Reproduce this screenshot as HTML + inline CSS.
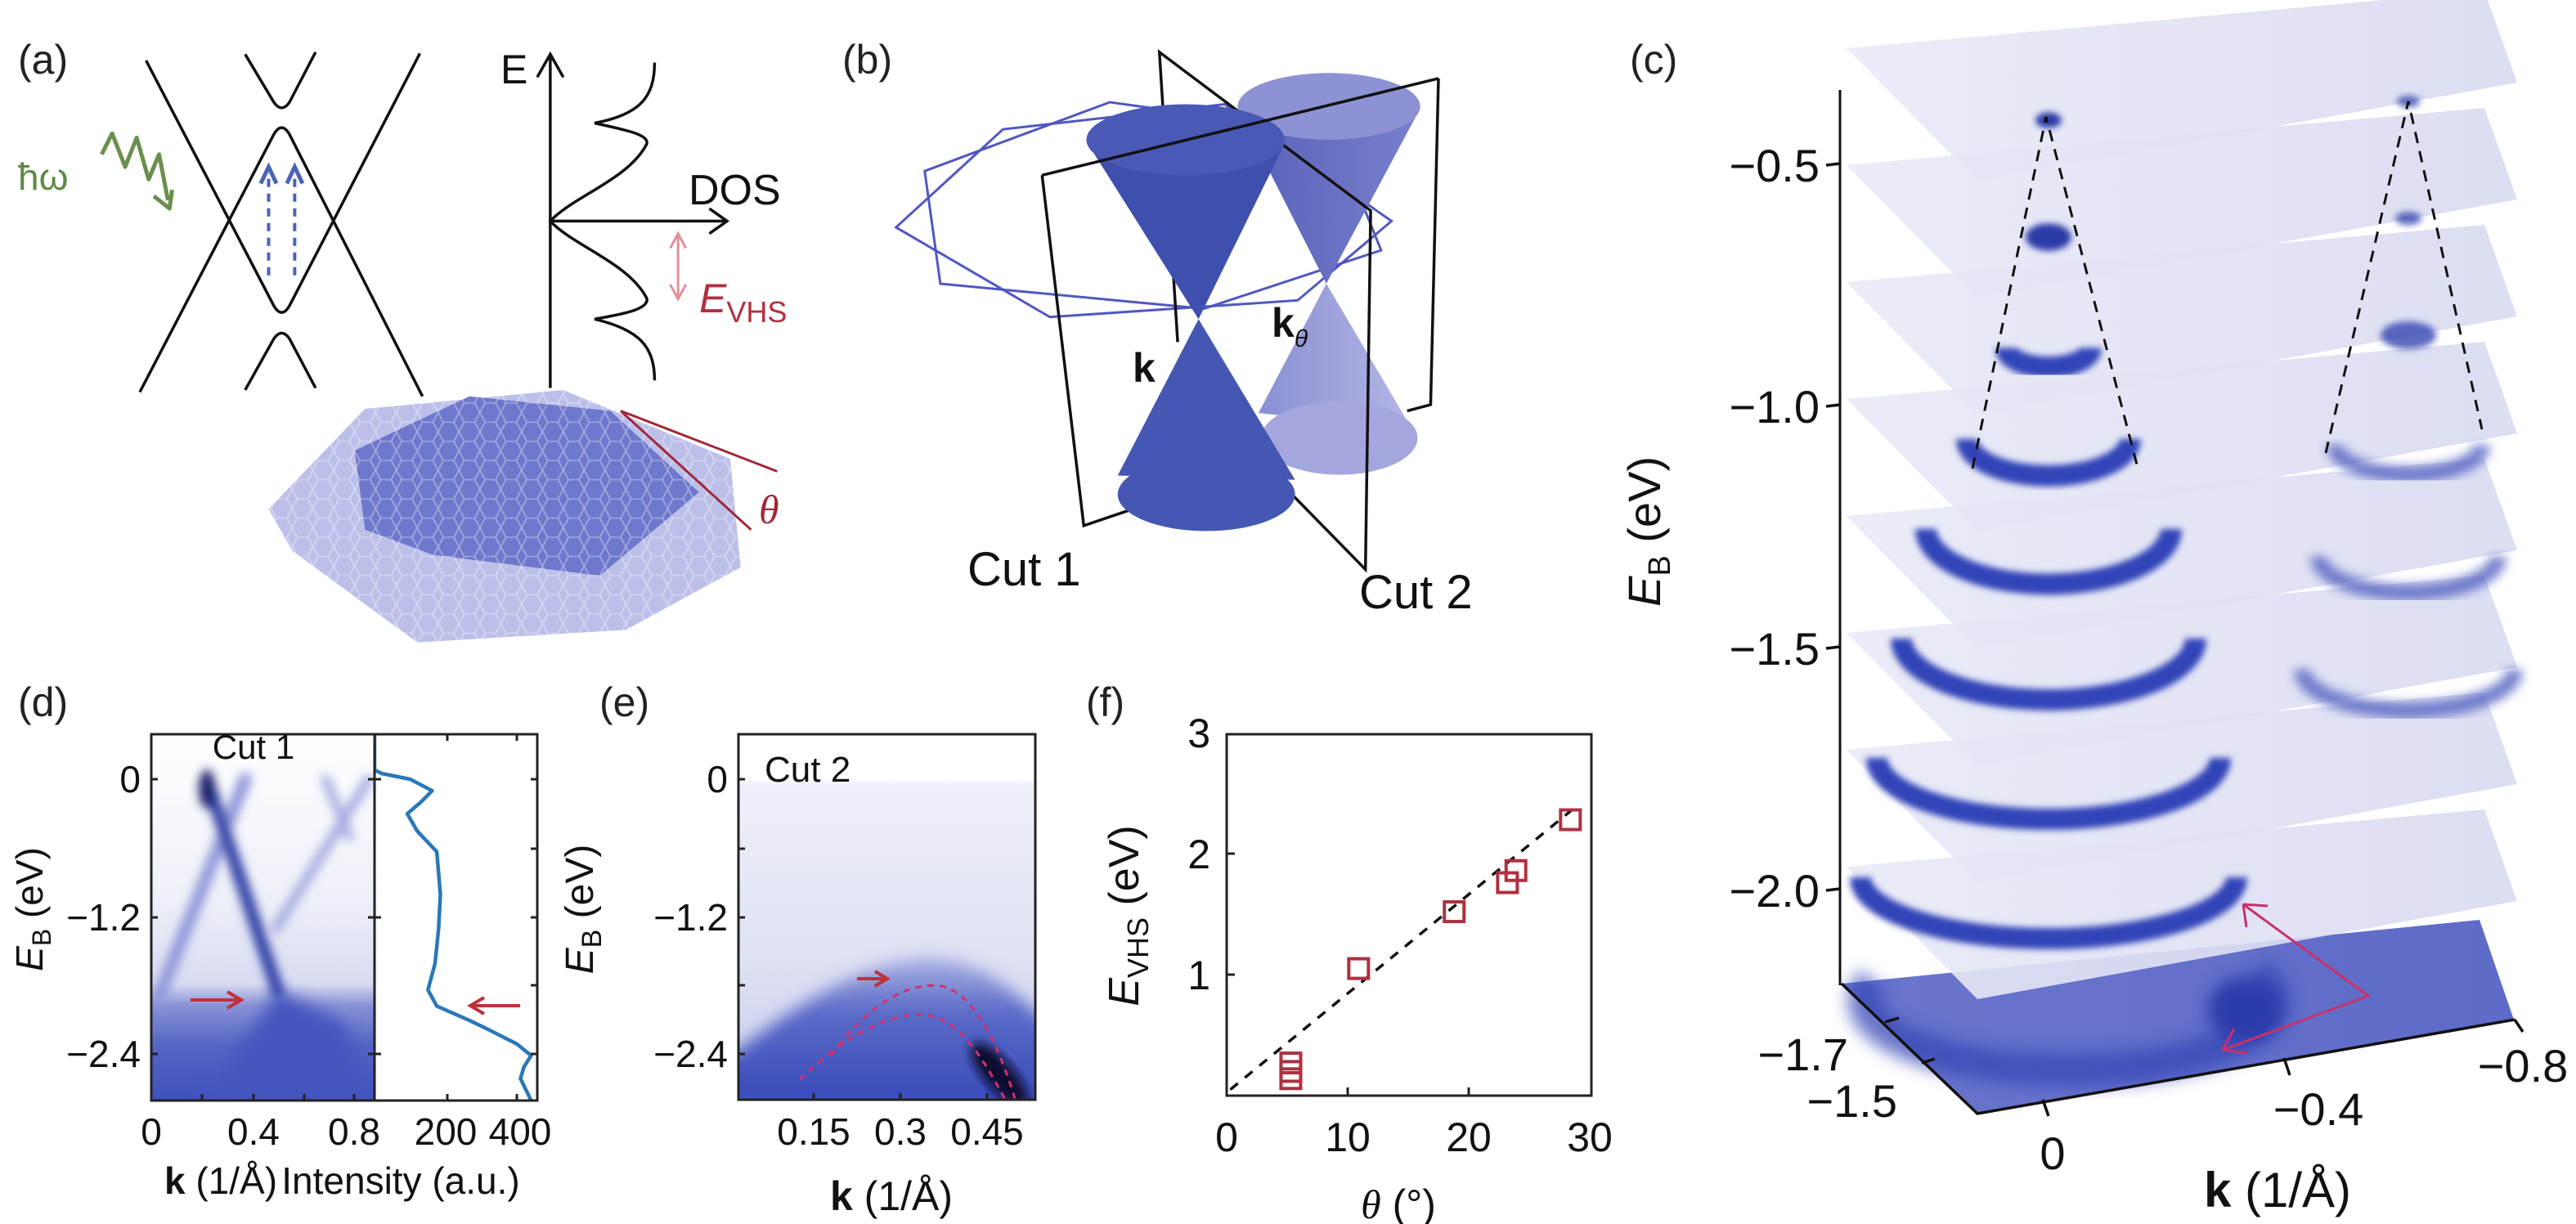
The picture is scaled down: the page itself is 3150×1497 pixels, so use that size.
<!DOCTYPE html>
<html><head><meta charset="utf-8"><style>
html,body{margin:0;padding:0;background:#fff;}
svg{display:block;}
.t{font-family:"Liberation Sans Narrow","Liberation Sans",sans-serif;}
.s{font-family:"Liberation Sans",sans-serif;}
</style></head><body>
<svg id="fig" width="3150" height="1497" viewBox="0 0 3150 1497" xmlns="http://www.w3.org/2000/svg">
<defs>
<filter id="blur6" x="-20%" y="-20%" width="140%" height="140%"><feGaussianBlur stdDeviation="6"/></filter>
<filter id="blur10" x="-30%" y="-30%" width="160%" height="160%"><feGaussianBlur stdDeviation="10"/></filter>
<filter id="blur3" x="-20%" y="-40%" width="140%" height="180%"><feGaussianBlur stdDeviation="4"/></filter>
<linearGradient id="dbg" x1="0" y1="0" x2="0" y2="1">
<stop offset="0" stop-color="#ffffff"/><stop offset="0.45" stop-color="#eef0f9"/><stop offset="0.68" stop-color="#d9dcf1"/><stop offset="0.74" stop-color="#8892d6"/><stop offset="0.85" stop-color="#5565c4"/><stop offset="1" stop-color="#3f51bd"/></linearGradient>
<linearGradient id="ebg" x1="0" y1="0" x2="0" y2="1">
<stop offset="0" stop-color="#ffffff"/><stop offset="0.12" stop-color="#ffffff"/><stop offset="0.14" stop-color="#eef0f9"/><stop offset="0.6" stop-color="#dfe2f3"/><stop offset="1" stop-color="#c9cdee"/></linearGradient>
<linearGradient id="edome" x1="0" y1="0" x2="0" y2="1">
<stop offset="0" stop-color="#aab1e3"/><stop offset="0.35" stop-color="#5b6bc8"/><stop offset="1" stop-color="#3447b8"/></linearGradient>
<linearGradient id="slice" x1="0" y1="0" x2="1" y2="0">
<stop offset="0" stop-color="#e9eaf7"/><stop offset="1" stop-color="#d8daf0"/></linearGradient>
<linearGradient id="slice0" x1="0" y1="0" x2="1" y2="0">
<stop offset="0" stop-color="#6a75cd"/><stop offset="1" stop-color="#5e6bc8"/></linearGradient>
<linearGradient id="cone2" x1="0" y1="0" x2="1" y2="0">
<stop offset="0" stop-color="#5560b8"/><stop offset="1" stop-color="#7a80cc"/></linearGradient>
<linearGradient id="cone3" x1="0" y1="0" x2="1" y2="0">
<stop offset="0" stop-color="#8a90d4"/><stop offset="1" stop-color="#b3b6e4"/></linearGradient>
<pattern id="hexpat" width="40" height="46" patternUnits="userSpaceOnUse">
<path d="M10,0 L30,0 L40,23 L30,46 L10,46 L0,23 Z" fill="none" stroke="#ffffff" stroke-opacity="0.35" stroke-width="3"/></pattern>
<clipPath id="clipD"><rect x="185" y="898" width="273" height="448"/></clipPath>
<clipPath id="clipDI"><rect x="458" y="898" width="199" height="448"/></clipPath>
<clipPath id="clipE"><rect x="903" y="898" width="363" height="447"/></clipPath>
</defs>

<g class="s" font-size="50" fill="#222">
<text x="22" y="90">(a)</text>
<text x="1030" y="90">(b)</text>
<text x="1993" y="90">(c)</text>
<text x="22" y="876">(d)</text>
<text x="733" y="876">(e)</text>
<text x="1328" y="876">(f)</text>
</g>

<!-- ========== PANEL A ========== -->
<g>
<g transform="scale(0.6378,0.5102)">
<g fill="none" stroke="#111" stroke-width="3.5">
<path vector-effect="non-scaling-stroke" d="M470,130 L525,245 Q540,272 555,245 L605,125"/>
<path vector-effect="non-scaling-stroke" d="M268,940 L525,322 Q540,290 555,322 L810,950"/>
<path vector-effect="non-scaling-stroke" d="M280,145 L525,733 Q540,765 555,733 L805,128"/>
<path vector-effect="non-scaling-stroke" d="M470,935 L525,812 Q540,785 555,812 L605,930"/>
</g>
<g stroke="#4a63b8" stroke-width="4" fill="none">
<path vector-effect="non-scaling-stroke" d="M515,660 L515,420" stroke-dasharray="10,8"/>
<path vector-effect="non-scaling-stroke" d="M565,660 L565,420" stroke-dasharray="10,8"/>
<path vector-effect="non-scaling-stroke" d="M500,440 L515,400 L530,440" stroke-width="5"/>
<path vector-effect="non-scaling-stroke" d="M550,440 L565,400 L580,440" stroke-width="5"/>
</g>
<path vector-effect="non-scaling-stroke" d="M195,370 L215,320 L240,400 L262,330 L285,430 L305,370 L322,480 M295,470 L325,500 L330,455" fill="none" stroke="#6b8f4e" stroke-width="5" stroke-linejoin="round"/>
<g fill="none" stroke="#111" stroke-width="3.5">
<path vector-effect="non-scaling-stroke" d="M1055,930 L1055,132"/>
<path vector-effect="non-scaling-stroke" d="M1030,185 L1055,130 L1080,185"/>
<path vector-effect="non-scaling-stroke" d="M1055,530 L1392,530"/>
<path vector-effect="non-scaling-stroke" d="M1360,500 L1394,530 L1360,560"/>
<path vector-effect="non-scaling-stroke" d="M1255,150 C1255,235 1225,275 1140,295 C1200,312 1245,322 1240,345 C1205,430 1100,470 1055,530 C1100,590 1205,630 1240,715 C1245,740 1200,752 1140,765 C1225,790 1255,830 1255,912"/>
</g>
<path vector-effect="non-scaling-stroke" d="M1300,565 L1300,712 M1285,595 L1300,560 L1315,595 M1285,682 L1300,717 L1315,682" fill="none" stroke="#e0909a" stroke-width="3"/>
<g>
<polygon points="515,1220 700,980 1080,935 1400,1100 1420,1360 1200,1510 800,1540 560,1320" fill="#bcc0e9"/>
<polygon points="515,1220 700,980 1080,935 1400,1100 1420,1360 1200,1510 800,1540 560,1320" fill="url(#hexpat)"/>
<polygon points="680,1080 900,950 1170,985 1340,1180 1150,1380 830,1330 700,1270" fill="#6e78cc"/>
<polygon points="680,1080 900,950 1170,985 1340,1180 1150,1380 830,1330 700,1270" fill="url(#hexpat)"/>
</g>
<path vector-effect="non-scaling-stroke" d="M1190,985 L1490,1130 M1190,985 L1440,1270" stroke="#a02838" stroke-width="3" fill="none"/>
</g>
<text class="s" x="22" y="232" font-size="46" fill="#5f8a45">ħω</text>
<text class="s" x="612" y="102" font-size="50" fill="#111">E</text>
<text class="s" x="842" y="250" font-size="52" fill="#111">DOS</text>
<text class="s" x="855" y="382" font-size="50" fill="#b03040" font-style="italic">E<tspan font-size="36" font-style="normal" dy="12">VHS</tspan></text>
<text x="928" y="640" font-family="Liberation Serif,serif" font-style="italic" font-size="50" fill="#a02838">θ</text>
</g>

<!-- ========== PANEL B ========== -->
<g>
<g transform="translate(1000,0) scale(0.6378,0.5102)">
<g fill="none" stroke="#5058c0" stroke-width="3">
<polygon vector-effect="non-scaling-stroke" points="150,545 355,310 780,250 1100,530 920,720 445,760"/>
<polygon vector-effect="non-scaling-stroke" points="205,410 560,245 990,320 1080,600 740,740 235,680"/>
</g>
<g>
<polygon points="845,990 975,680 1140,1030" fill="url(#cone3)"/>
<ellipse cx="1000" cy="1050" rx="150" ry="88" fill="#a4a7dd"/>
<polygon points="805,260 1155,260 975,680" fill="url(#cone2)"/>
<ellipse cx="980" cy="255" rx="175" ry="80" fill="#8d92d4"/>
</g>
<g fill="none" stroke="#111" stroke-width="3.5">
<polyline vector-effect="non-scaling-stroke" points="690,820 655,125 1060,505 1050,1365 905,1180"/>
<polyline vector-effect="non-scaling-stroke" points="600,1222 510,1260 430,420"/>
<polyline vector-effect="non-scaling-stroke" points="1190,188 1175,970 1130,985"/>
</g>
<g>
<polygon points="575,1140 730,765 915,1150" fill="#4656b3"/>
<ellipse cx="745" cy="1185" rx="170" ry="88" fill="#4656b3"/>
<polygon points="518,345 895,345 730,765" fill="#3f4fae"/>
<ellipse cx="705" cy="335" rx="190" ry="85" fill="#4a59b6"/>
</g>
<path vector-effect="non-scaling-stroke" d="M430,420 L1190,188" stroke="#111" stroke-width="3.5" fill="none"/>
</g>
<text class="s" x="1385" y="467" font-size="50" font-weight="bold" fill="#111">k</text>
<text class="s" x="1555" y="412" font-size="50" font-weight="bold" fill="#111">k<tspan font-size="30" font-weight="normal" font-style="italic" dy="12">θ</tspan></text>
<text class="t" x="1183" y="716" font-size="58" fill="#111">Cut 1</text>
<text class="t" x="1662" y="744" font-size="58" fill="#111">Cut 2</text>
</g>

<!-- ========== PANEL C ========== -->
<g id="panelC">
<line x1="2250" y1="110" x2="2250" y2="1205" stroke="#111" stroke-width="3"/>
<g id="cSlices"></g>
<g stroke="#111" stroke-width="3" stroke-dasharray="14,10" fill="none">
<path d="M2412,573 L2502,143 L2613,568"/>
<path d="M2844,554 L2945,124 L3035,525"/>
</g>
<path d="M2743,1106 L2896,1218 L2718,1284 M2743,1106 l30,2 M2743,1106 l4,28 M2718,1284 l14,-26 M2718,1284 l30,4" stroke="#c8306a" stroke-width="3" fill="none"/>
<g stroke="#111" stroke-width="3.5" fill="none">
<path d="M2252,1203 L2418,1362 L3075,1247"/>
<path d="M2498,1345 L2505,1365 M2793,1294 L2800,1315 M3075,1247 L3085,1262 M2305,1250 L2322,1245 M2350,1300 L2366,1295"/>
<path d="M2233,202 L2250,200 M2233,497 L2250,495 M2233,793 L2250,791 M2233,1089 L2250,1087"/>
</g>
<g class="t" font-size="56" fill="#111" text-anchor="end">
<text x="2225" y="222">−0.5</text><text x="2225" y="517">−1.0</text><text x="2225" y="813">−1.5</text><text x="2225" y="1109">−2.0</text>
<text x="2260" y="1309">−1.7</text><text x="2320" y="1366">−1.5</text>
</g>
<g class="t" font-size="56" fill="#111" text-anchor="middle">
<text x="2510" y="1430">0</text><text x="2835" y="1376">−0.4</text><text x="3085" y="1323">−0.8</text>
</g>
<text class="t" x="2785" y="1476" font-size="60" text-anchor="middle" fill="#111"><tspan font-weight="bold">k</tspan> (1/Å)</text>
<text class="s" transform="translate(2030,650) rotate(-90)" font-size="56" text-anchor="middle" fill="#111"><tspan font-style="italic">E</tspan><tspan font-size="38" dy="12">B</tspan><tspan dy="-12"> (eV)</tspan></text>
</g>

<!-- ========== PANEL D ========== -->
<g>
<g clip-path="url(#clipD)">
<rect x="185" y="898" width="273" height="448" fill="url(#dbg)"/>
<polygon points="340,1213 250,1346 458,1346 420,1250" fill="#4555bf" filter="url(#blur10)"/>
<g filter="url(#blur6)" fill="none" stroke-linecap="round">
<path d="M194,1220 L300,953" stroke="#8f98da" stroke-width="16"/>
<path d="M398,953 L427,1023" stroke="#aab0e2" stroke-width="12"/>
<path d="M451,953 L337,1136" stroke="#a4abe0" stroke-width="12"/>
<path d="M253,953 L340,1213" stroke="#2e3fa6" stroke-width="16"/>
<ellipse cx="253" cy="965" rx="10" ry="24" fill="#1a226a"/>
</g>
</g>
<g id="dIntensity" clip-path="url(#clipDI)"></g>
<rect x="185" y="898" width="472" height="448" fill="none" stroke="#222" stroke-width="3"/>
<line x1="458" y1="898" x2="458" y2="1346" stroke="#222" stroke-width="3"/>
<g stroke="#222" stroke-width="3">
<path d="M185,953 h8 M185,1122 h8 M185,1289 h8 M450,953 h8 M450,1122 h8 M450,1289 h8 M458,953 h8 M458,1122 h8 M458,1289 h8 M649,953 h8 M649,1038 h8 M649,1122 h8 M649,1205 h8 M649,1289 h8 M547,898 v8 M632,898 v8 M547,1338 v8 M632,1338 v8 M247,1338 v8 M310,1338 v8 M372,1338 v8 M433,1338 v8"/>
</g>
<text class="t" x="310" y="928" font-size="42" text-anchor="middle" fill="#111">Cut 1</text>
<g class="t" font-size="46" fill="#111" text-anchor="end">
<text x="172" y="969">0</text><text x="172" y="1138">−1.2</text><text x="172" y="1305">−2.4</text></g>
<g class="t" font-size="46" fill="#111" text-anchor="middle">
<text x="185" y="1400">0</text><text x="310" y="1400">0.4</text><text x="433" y="1400">0.8</text><text x="545" y="1400">200</text><text x="636" y="1400">400</text></g>
<text class="t" x="270" y="1460" font-size="46" text-anchor="middle" fill="#111"><tspan font-weight="bold">k</tspan> (1/Å)</text>
<text class="t" x="490" y="1460" font-size="46" text-anchor="middle" fill="#111">Intensity (a.u.)</text>
<text class="s" transform="translate(52,1112) rotate(-90)" font-size="46" text-anchor="middle" fill="#111"><tspan font-style="italic">E</tspan><tspan font-size="32" dy="10">B</tspan><tspan dy="-10"> (eV)</tspan></text>
<path d="M233,1223 L292,1223 M278,1213 L295,1223 L278,1233" stroke="#c0303a" stroke-width="4" fill="none"/>
<path d="M636,1230 L578,1230 M592,1220 L575,1230 L592,1240" stroke="#c0303a" stroke-width="4" fill="none"/>
</g>

<!-- ========== PANEL E ========== -->
<g>
<g clip-path="url(#clipE)">
<rect x="903" y="898" width="363" height="447" fill="url(#ebg)"/>
<path d="M880,1300 C950,1250 1040,1175 1136,1172 C1200,1172 1250,1220 1290,1260 L1290,1360 L880,1360 Z" fill="url(#edome)" filter="url(#blur10)"/>
<ellipse cx="1222" cy="1315" rx="50" ry="18" transform="rotate(50 1222 1315)" fill="#101030" filter="url(#blur6)"/>
<path d="M1016,1291 C1060,1230 1110,1200 1151,1206 C1195,1215 1225,1290 1242,1347" fill="none" stroke="#d03070" stroke-width="3" stroke-dasharray="8,7"/>
<path d="M978,1320 C1040,1260 1095,1236 1136,1242 C1180,1250 1210,1310 1232,1350" fill="none" stroke="#d03070" stroke-width="3" stroke-dasharray="8,7"/>
</g>
<rect x="903" y="898" width="363" height="447" fill="none" stroke="#222" stroke-width="3"/>
<g stroke="#222" stroke-width="3"><path d="M903,953 h8 M903,1038 h8 M903,1122 h8 M903,1205 h8 M903,1289 h8 M995,1337 v8 M1101,1337 v8 M1207,1337 v8"/></g>
<text class="t" x="935" y="956" font-size="44" fill="#111">Cut 2</text>
<g class="t" font-size="46" fill="#111" text-anchor="end">
<text x="890" y="969">0</text><text x="890" y="1138">−1.2</text><text x="890" y="1305">−2.4</text></g>
<g class="t" font-size="46" fill="#111" text-anchor="middle">
<text x="995" y="1400">0.15</text><text x="1101" y="1400">0.3</text><text x="1207" y="1400">0.45</text></g>
<text class="t" x="1090" y="1480" font-size="50" text-anchor="middle" fill="#111"><tspan font-weight="bold">k</tspan> (1/Å)</text>
<text class="s" transform="translate(725,1112) rotate(-90)" font-size="48" text-anchor="middle" fill="#111"><tspan font-style="italic">E</tspan><tspan font-size="34" dy="10">B</tspan><tspan dy="-10"> (eV)</tspan></text>
<path d="M1048,1197 L1082,1197 M1070,1188 L1085,1197 L1070,1206" stroke="#c0303a" stroke-width="4" fill="none"/>
</g>

<!-- ========== PANEL F ========== -->
<g id="panelF">
<rect x="1500" y="898" width="446" height="442" fill="none" stroke="#222" stroke-width="3"/>
<g id="fTicks"></g>
<g id="fMarks"></g>
<text class="s" x="1710" y="1490" font-size="50" text-anchor="middle" fill="#111"><tspan font-family="Liberation Serif,serif" font-style="italic">θ</tspan> (°)</text>
<text class="s" transform="translate(1392,1120) rotate(-90)" font-size="52" text-anchor="middle" fill="#111"><tspan font-style="italic">E</tspan><tspan font-size="36" dy="12">VHS</tspan><tspan dy="-12"> (eV)</tspan></text>
</g>
</svg>
<script>
// ---- panel f data ----
const thetaValues = [5.3, 5.3, 5.3, 10.9, 18.8, 23.2, 23.9, 28.4];
const evhsValues = [0.14, 0.20, 0.27, 1.05, 1.52, 1.76, 1.86, 2.28];
const fitTheta = [0.3, 29];
const fitEvhs = [0.05, 2.4];
const fXTicks = [0, 10, 20, 30];
const fYTicks = [1, 2, 3];
// ---- panel d intensity profile data ----
const profileEnergy = [0.39, 0.08, 0.05, 0.0, -0.1, -0.2, -0.3, -0.45, -0.63, -1.0, -1.3, -1.6, -1.83, -1.97, -2.1, -2.17, -2.3, -2.4, -2.5, -2.6, -2.79];
const profileIntensity = [0, 0, 20, 100, 162, 130, 92, 120, 175, 185, 180, 170, 150, 175, 270, 317, 400, 440, 420, 410, 440];
// ---- panel c slice features ----
const sliceTopY = [59, 202, 345, 488, 631, 774, 917, 1060];
const ringLeftRx = [16, 28, 52, 100, 150, 180, 210, 230];
const ringRightRx = [14, 16, 34, 90, 110, 130, 0, 0];

const NS = 'http://www.w3.org/2000/svg';
function mk(tag, attrs, parent){const e=document.createElementNS(NS,tag);for(const k in attrs)e.setAttribute(k,attrs[k]);parent.appendChild(e);return e;}

const fx = v => 1500 + v * 14.8;
const fy = v => 1340 - v * 148;
const fT = document.getElementById('fTicks');
fXTicks.forEach(v => {
  if (v > 0 && v < 30) { const l = mk('line', {x1: fx(v), x2: fx(v), y1: 1340, y2: 1330, stroke: '#222', 'stroke-width': 3}, fT);
      }
  const t = mk('text', {x: fx(v), y: 1408, 'font-size': 50, 'text-anchor': 'middle', fill: '#111', class: 's'}, fT);
  t.textContent = String(v);
  
  
});
fYTicks.forEach(v => {
  if (v < 3) { const l = mk('line', {x1: 1500, x2: 1510, y1: fy(v), y2: fy(v), stroke: '#222', 'stroke-width': 3}, fT);
      }
  const t = mk('text', {x: 1480, y: fy(v) + 18, 'font-size': 50, 'text-anchor': 'end', fill: '#111', class: 's'}, fT);
  t.textContent = String(v);
  
  
});
const fM = document.getElementById('fMarks');
const fit = mk('line', {x1: fx(fitTheta[0]), y1: fy(fitEvhs[0]), x2: fx(fitTheta[1]), y2: fy(fitEvhs[1]), stroke: '#111', 'stroke-width': 3.5, 'stroke-dasharray': '12,11'}, fM);


thetaValues.forEach((th, i) => {
  const r = mk('rect', {x: fx(th) - 12, y: fy(evhsValues[i]) - 12, width: 24, height: 24, fill: 'none', stroke: '#b03040', 'stroke-width': 4}, fM);
  
  
});

const dx = v => 458 + v * 0.435;
const dy = v => 953 - v * 140.8;
const dI = document.getElementById('dIntensity');
let dPath = '';
profileEnergy.forEach((e, i) => { dPath += (i ? ' L' : 'M') + dx(profileIntensity[i]).toFixed(1) + ',' + dy(e).toFixed(1); });
const curve = mk('path', {d: dPath, fill: 'none', stroke: '#2a78b8', 'stroke-width': 4.5, 'stroke-linejoin': 'round'}, dI);



// panel c slices
const cS = document.getElementById('cSlices');
const bx = 2252, by = 1203;
const base = mk('polygon', {points: `${bx},${by} ${bx+780},${by-78} ${bx+822},${by+44} ${bx+166},${by+159}`, fill: 'url(#slice0)'}, cS);


const bring = mk('path', {d: 'M2290,1200 A250,85 0 1 0 2760,1190', fill: 'none', stroke: '#3446b6', 'stroke-width': 40, filter: 'url(#blur10)', opacity: 0.75}, cS);


const bdark = mk('ellipse', {cx: 2745, cy: 1235, rx: 45, ry: 40, fill: '#2a3aaa', filter: 'url(#blur10)'}, cS);


sliceTopY.slice().reverse().forEach((ty, ri) => {
  const i = sliceTopY.length - 1 - ri;
  const x0 = 2258;
  const g = mk('g', {}, cS);
  
  
  mk('polygon', {points: `${x0},${ty} ${x0+780},${ty-70} ${x0+820},${ty+42} ${x0+160},${ty+162}`, fill: 'url(#slice)', 'fill-opacity': 0.9}, g);
  const rl = ringLeftRx[i];
  const cx = x0 + 247, bottom = ty + 112 + i * 3;
  if (rl < 30) {
    mk('ellipse', {cx: cx, cy: ty + 88, rx: rl, ry: rl * 0.6, fill: '#2a3aa8', filter: 'url(#blur3)'}, g);
  } else {
    const ry = Math.min(rl * 0.45, 75), cy = bottom - ry;
    mk('path', {d: `M${cx - rl},${cy - ry * 0.6} A${rl},${ry} 0 1 0 ${cx + rl},${cy - ry * 0.6}`, fill: 'none', stroke: '#3344b8', 'stroke-width': 26, filter: 'url(#blur3)'}, g);
  }
  const rr = ringRightRx[i];
  const rcx = x0 + 687;
  if (rr > 0 && rr < 40) {
    mk('ellipse', {cx: rcx, cy: ty + 65, rx: rr, ry: rr * 0.5, fill: '#4050b5', filter: 'url(#blur3)', opacity: 0.85}, g);
  } else if (rr > 0) {
    const ry = Math.min(rr * 0.4, 50), cy = ty + 85 - ry * 0.3;
    mk('path', {d: `M${rcx - rr},${cy - ry * 0.5} A${rr},${ry} 0 1 0 ${rcx + rr},${cy - ry * 0.5}`, fill: 'none', stroke: '#5563c2', 'stroke-width': 20, filter: 'url(#blur6)', opacity: 0.8}, g);
  }
});
</script>
</body></html>
